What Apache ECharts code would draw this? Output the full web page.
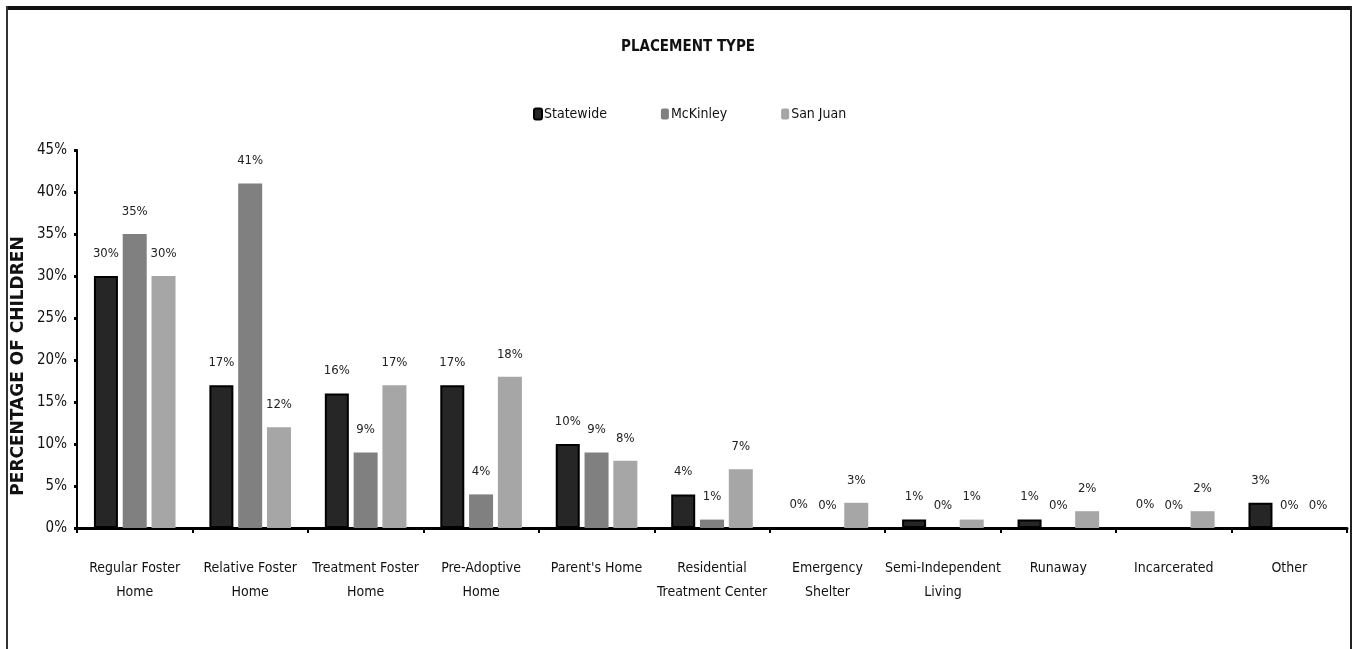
<!DOCTYPE html>
<html>
<head>
<meta charset="utf-8">
<script src="https://cdn.jsdelivr.net/npm/echarts@6/dist/echarts.min.js"></script>
<style>
html,body{margin:0;padding:0;background:#fff;}
#chart{width:1352px;height:649px;}
</style>
</head>
<body>
<div id="chart"></div>
<script>
const categories = [
  'Regular Foster\nHome', 'Relative Foster\nHome', 'Treatment Foster\nHome', 'Pre-Adoptive\nHome',
  "Parent's Home", 'Residential\nTreatment Center', 'Emergency\nShelter', 'Semi-Independent\nLiving',
  'Runaway', 'Incarcerated', 'Other'
];
const statewide = [30, 17, 16, 17, 10, 4, 0, 1, 1, 0, 3];
const mckinley  = [35, 41, 9, 4, 9, 1, 0, 0, 0, 0, 0];
const sanJuan   = [30, 12, 17, 18, 8, 7, 3, 1, 2, 2, 0];
const seriesNames = ['Statewide', 'McKinley', 'San Juan'];
const yTicks = [0, 5, 10, 15, 20, 25, 30, 35, 40, 45];

const NARROW = "'Liberation Sans Narrow', 'Arial Narrow', 'DejaVu Sans Condensed', sans-serif";
const chart = echarts.init(document.getElementById('chart'), null, {renderer: 'canvas'});

const labelCfg = {
  show: true, position: 'top', distance: 16,
  formatter: p => Math.round(p.value) + '%',
  fontFamily: NARROW, fontSize: 13, color: '#222'
};

chart.setOption({
  backgroundColor: '#fff',
  animation: false,
  title: {
    text: 'PLACEMENT TYPE', left: 683, top: 35, textAlign: 'center',
    textStyle: {fontFamily: NARROW, fontWeight: 'bold', fontSize: 15, color: '#111'}
  },
  legend: {
    left: 528, top: 102, itemWidth: 8, itemHeight: 11, itemGap: 54,
    textStyle: {fontFamily: NARROW, fontSize: 14, color: '#111', padding: [0, 0, 0, -3]},
    data: seriesNames
  },
  grid: {left: 77, right: 5, top: 150, bottom: 121},
  xAxis: {
    type: 'category', data: categories,
    axisLine: {lineStyle: {color: '#000', width: 3}},
    axisTick: {show: true, length: 5, lineStyle: {color: '#000', width: 2}},
    axisLabel: {interval: 0, margin: 28, fontFamily: NARROW, fontSize: 14, lineHeight: 24, color: '#111'}
  },
  yAxis: {
    type: 'value', min: yTicks[0], max: yTicks[yTicks.length - 1], interval: 5,
    splitLine: {show: false},
    axisLine: {show: true, lineStyle: {color: '#000', width: 2}},
    axisTick: {show: true, length: 3, lineStyle: {color: '#000', width: 3}},
    axisLabel: {formatter: '{value}%', margin: 10, fontFamily: NARROW, fontSize: 15, color: '#111'}
  },
  graphic: [
    {type: 'rect', shape: {x: 6, y: 6, width: 1346, height: 4}, style: {fill: '#111'}, z: 10},
    {type: 'rect', shape: {x: 6, y: 6, width: 2, height: 643}, style: {fill: '#333'}, z: 10},
    {type: 'rect', shape: {x: 1350, y: 6, width: 2, height: 643}, style: {fill: '#222'}, z: 10},
    {type: 'text', x: 19, y: 366, rotation: Math.PI / 2,
      style: {text: 'PERCENTAGE OF CHILDREN', fontFamily: "'DejaVu Sans', sans-serif", fontWeight: 'bold',
        fontSize: 17, fill: '#111', align: 'center', verticalAlign: 'middle'}}
  ],
  series: [
    {name: seriesNames[0], type: 'bar', data: statewide, barWidth: 24, barGap: '20%',
      itemStyle: {color: '#262626', borderColor: '#000', borderWidth: 2}, label: labelCfg},
    {name: seriesNames[1], type: 'bar', data: mckinley, barWidth: 24, barGap: '20%',
      itemStyle: {color: '#808080'}, label: labelCfg},
    {name: seriesNames[2], type: 'bar', data: sanJuan, barWidth: 24, barGap: '20%',
      itemStyle: {color: '#a6a6a6'}, label: labelCfg}
  ]
});
</script>
</body>
</html>
